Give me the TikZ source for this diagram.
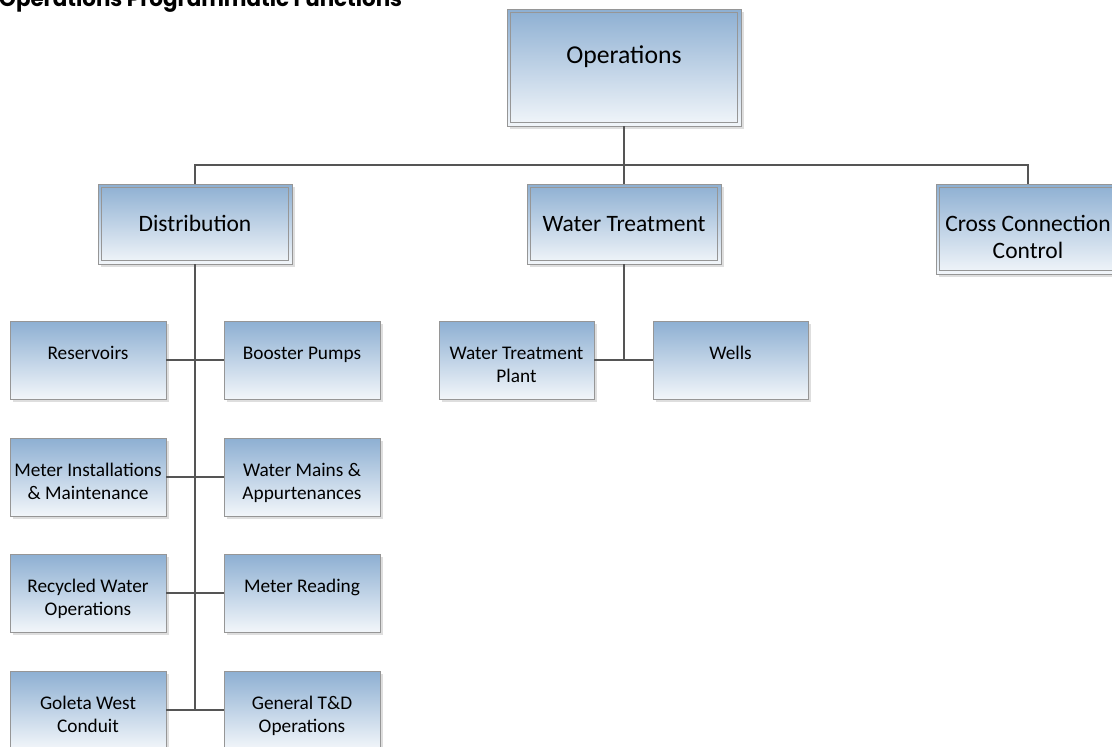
\documentclass[tikz,border=0pt]{standalone}
\usepackage{fontspec}
\usetikzlibrary{shadows,calc}
\newfontfamily\boxfont{Carlito}
\newfontfamily\titlefont{Poppins}
\definecolor{gtop}{RGB}{141,175,210}
\definecolor{gbot}{RGB}{242,246,250}
\definecolor{bordc}{RGB}{150,150,150}
\definecolor{innerc}{RGB}{150,150,150}
\definecolor{linec}{RGB}{85,85,85}
\tikzset{
  orgbox/.style={draw=bordc, line width=0.8pt, top color=gtop, bottom color=gbot, shading=axis,
    inner sep=0pt, general shadow={fill=black!13, shadow xshift=2.5pt, shadow yshift=-2.5pt}},
  framed/.style={orgbox, path picture={\draw[innerc, line width=0.5pt]
      ([shift={(3.5pt,3.5pt)}]path picture bounding box.south west) rectangle
      ([shift={(-3.5pt,-3.5pt)}]path picture bounding box.north east);}},
  topbox/.style={framed, minimum width=234pt, minimum height=117pt},
  midbox/.style={framed, minimum width=194pt, minimum height=80pt},
  leafbox/.style={orgbox, minimum width=156pt, minimum height=78pt},
  toptxt/.style={anchor=north, align=center, inner sep=0pt, font=\boxfont\fontsize{25.7}{31}\selectfont},
  midtxt/.style={anchor=north, align=center, inner sep=0pt, font=\boxfont\fontsize{23.5}{27}\selectfont},
  leaftxt/.style={anchor=north, align=center, inner sep=0pt, font=\boxfont\fontsize{19.3}{23}\selectfont},
  conn/.style={draw=linec, line width=1.8pt}
}
\begin{document}
\begin{tikzpicture}[x=1pt,y=-1pt]
\useasboundingbox (0,0) rectangle (1112,747);
% title
\node[anchor=base west, inner sep=0pt, font=\titlefont\bfseries\fontsize{21.4}{21.4}\selectfont] (title) at (-1,6.5) {Operations Programmatic Functions};
% boxes
\node[topbox] (ops) at (624,67.5) {};
\node[midbox] (dist) at (195,224) {};
\node[midbox] (wt) at (624,224) {};
\node[framed, minimum width=184pt, minimum height=90pt] (ccc) at (1028,229) {};
\node[leafbox] (res) at (88,360) {};
\node[leafbox] (boost) at (302,360) {};
\node[leafbox] (meter) at (88,477) {};
\node[leafbox] (mains) at (302,477) {};
\node[leafbox] (recyc) at (88,593) {};
\node[leafbox] (mread) at (302,593) {};
\node[leafbox] (goleta) at (88,710) {};
\node[leafbox] (gentd) at (302,710) {};
\node[leafbox, minimum width=155pt] (wtp) at (516.5,360) {};
\node[leafbox, minimum width=155pt] (wells) at (730.5,360) {};
% texts
\node[toptxt] (ops-t) at (624,42) {\strut Operations};
\node[midtxt] (dist-t) at (195,212) {\strut Distribution};
\node[midtxt] (wt-t) at (624,212) {\strut Water Treatment};
\node[midtxt] (ccc-t) at (1028,212) {\strut Cross Connection\\\strut Control};
\node[leaftxt] (res-t) at (88,342.8) {\strut Reservoirs};
\node[leaftxt] (boost-t) at (302,342.8) {\strut Booster Pumps};
\node[leaftxt] (meter-t) at (88,459.8) {\strut Meter Installations\\\strut \& Maintenance};
\node[leaftxt] (mains-t) at (302,459.8) {\strut Water Mains \&\\\strut Appurtenances};
\node[leaftxt] (recyc-t) at (88,575.8) {\strut Recycled Water\\\strut Operations};
\node[leaftxt] (mread-t) at (302,575.8) {\strut Meter Reading};
\node[leaftxt] (goleta-t) at (88,692.8) {\strut Goleta West\\\strut Conduit};
\node[leaftxt] (gentd-t) at (302,692.8) {\strut General T\&D\\\strut Operations};
\node[leaftxt] (wtp-t) at (516.5,342.8) {\strut Water Treatment\\\strut Plant};
\node[leaftxt] (wells-t) at (730.5,342.8) {\strut Wells};
% connectors
\coordinate (busL) at (195,165);
\coordinate (busR) at (1028,165);
\draw[conn] (dist.north) -- (busL) -- (busR) -- (ccc.north);
\draw[conn] (ops.south) -- (ops.south |- busL);
\draw[conn] (wt.north) -- (wt.north |- busL);
\draw[conn] (dist.south) -- (dist.south |- goleta.east);
\draw[conn] (res.east) -- (boost.west);
\draw[conn] (meter.east) -- (mains.west);
\draw[conn] (recyc.east) -- (mread.west);
\draw[conn] (goleta.east) -- (gentd.west);
\draw[conn] (wt.south) -- (wt.south |- wtp.east);
\draw[conn] (wtp.east) -- (wells.west);
\end{tikzpicture}
\end{document}
